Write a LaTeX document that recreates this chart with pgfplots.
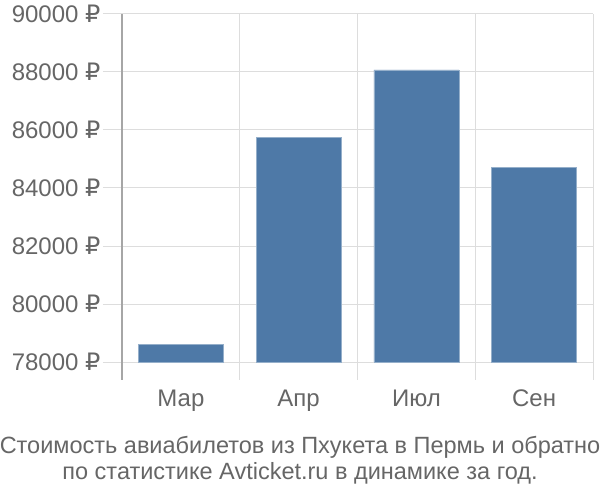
\documentclass[border=0pt]{standalone}
\usepackage{pgfplots}
\pgfplotsset{compat=1.18}
\usepackage{fontspec}
\setmainfont{Liberation Sans}
\newfontfamily\rubfont{DejaVu Sans}
\newcommand{\rub}{{\rubfont ₽}}

\definecolor{barblue}{HTML}{4E79A7}
\definecolor{gridgray}{HTML}{DDDDDD}
\definecolor{axisgray}{HTML}{A6A6A6}
\definecolor{textgray}{HTML}{666666}

\begin{document}
\begin{tikzpicture}[x=1bp,y=1bp]
\useasboundingbox (0,0) rectangle (600,500);
% bars start at 78000: plot relative to that base
\begin{axis}[
    at={(122bp,120bp)}, anchor=south west,
    scale only axis,
    width=471bp, height=366bp,
    ybar, bar width=85bp,
    xmin=-0.5, xmax=3.5,
    ymin=-620, ymax=12000,
    y filter/.expression={y-78000},
    scaled y ticks=false,
    xtick={0,1,2,3},
    xticklabels={Мар,Апр,Июл,Сен},
    extra x ticks={0.5,1.5,2.5,3.5},
    extra x tick labels={},
    extra x tick style={grid=major, major tick length=0pt},
    ytick={0,2000,4000,6000,8000,10000,12000},
    yticklabels={78000 \rub,80000 \rub,82000 \rub,84000 \rub,86000 \rub,88000 \rub,90000 \rub},
    ymajorgrids,
    grid style={gridgray, line width=1bp},
    axis y line*=left,
    axis x line*=bottom,
    x axis line style={draw=none},
    y axis line style={draw=axisgray, line width=1.2bp},
    xtick style={draw=none},
    ytick style={draw=gridgray, line width=1bp},
    tick align=outside,
    major tick length=19bp,
    ticklabel style={font=\fontsize{24bp}{28bp}\selectfont, text=textgray},
    yticklabel style={xshift=1bp},
    xticklabel style={yshift=13bp},
    clip=false,
]
\addplot[fill=barblue, draw=barblue!60!white, line width=0.6bp] coordinates {
    (0,78620)
    (1,85745)
    (2,88070)
    (3,84700)
};
\end{axis}
\node[text=textgray, align=center, font=\fontsize{23.5bp}{26bp}\selectfont] at (300,40)
    {Стоимость авиабилетов из Пхукета в Пермь и обратно\\по статистике Avticket.ru в динамике за год.};
\end{tikzpicture}
\end{document}
